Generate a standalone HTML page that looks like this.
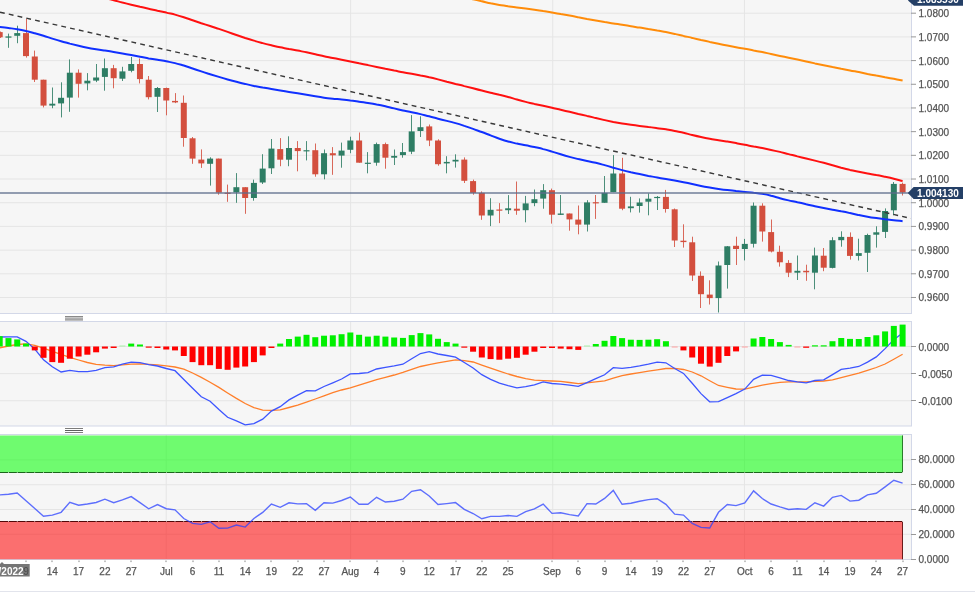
<!DOCTYPE html><html><head><meta charset="utf-8"><style>html,body{margin:0;padding:0;background:#fff;}body{width:975px;height:596px;overflow:hidden;}svg{display:block;}text{font-family:"Liberation Sans",Arial,sans-serif;}</style></head><body>
<svg width="975" height="596" viewBox="0 0 975 596">
<rect x="0" y="0" width="975" height="596" fill="#ffffff"/>
<rect x="-1" y="-2" width="912.5" height="315.5" fill="#f6f6f6" stroke="#d3d8e8" stroke-width="1"/>
<rect x="-1" y="321.5" width="912.5" height="104.5" fill="#f6f6f6" stroke="#d3d8e8" stroke-width="1"/>
<rect x="-1" y="434.5" width="912.5" height="125.0" fill="#f6f6f6" stroke="#d3d8e8" stroke-width="1"/>
<g>
<clipPath id="cm"><rect x="0" y="0" width="911" height="313"/></clipPath>
<g clip-path="url(#cm)">
<line x1="0" y1="13.20" x2="911" y2="13.20" stroke="#e5e5e5" stroke-width="1"/>
<line x1="0" y1="36.89" x2="911" y2="36.89" stroke="#e5e5e5" stroke-width="1"/>
<line x1="0" y1="60.58" x2="911" y2="60.58" stroke="#e5e5e5" stroke-width="1"/>
<line x1="0" y1="84.27" x2="911" y2="84.27" stroke="#e5e5e5" stroke-width="1"/>
<line x1="0" y1="107.96" x2="911" y2="107.96" stroke="#e5e5e5" stroke-width="1"/>
<line x1="0" y1="131.65" x2="911" y2="131.65" stroke="#e5e5e5" stroke-width="1"/>
<line x1="0" y1="155.34" x2="911" y2="155.34" stroke="#e5e5e5" stroke-width="1"/>
<line x1="0" y1="179.03" x2="911" y2="179.03" stroke="#e5e5e5" stroke-width="1"/>
<line x1="0" y1="202.72" x2="911" y2="202.72" stroke="#e5e5e5" stroke-width="1"/>
<line x1="0" y1="226.41" x2="911" y2="226.41" stroke="#e5e5e5" stroke-width="1"/>
<line x1="0" y1="250.10" x2="911" y2="250.10" stroke="#e5e5e5" stroke-width="1"/>
<line x1="0" y1="273.79" x2="911" y2="273.79" stroke="#e5e5e5" stroke-width="1"/>
<line x1="0" y1="297.48" x2="911" y2="297.48" stroke="#e5e5e5" stroke-width="1"/>
<line x1="166.2" y1="0" x2="166.2" y2="313" stroke="#e5e5e5" stroke-width="1"/>
<line x1="350.6" y1="0" x2="350.6" y2="313" stroke="#e5e5e5" stroke-width="1"/>
<line x1="552.7" y1="0" x2="552.7" y2="313" stroke="#e5e5e5" stroke-width="1"/>
<line x1="744.4" y1="0" x2="744.4" y2="313" stroke="#e5e5e5" stroke-width="1"/>
<path d="M455.5,-4.4 C457.0,-4.1 461.4,-3.2 464.3,-2.6 C467.2,-2.0 470.1,-1.4 473.1,-0.7 C476.0,-0.1 478.9,0.6 481.8,1.3 C484.8,2.0 487.7,2.6 490.6,3.3 C493.5,3.9 496.4,4.4 499.4,4.9 C502.3,5.4 505.2,5.8 508.1,6.3 C511.1,6.7 514.0,7.1 516.9,7.4 C519.8,7.8 522.7,8.2 525.7,8.6 C528.6,9.0 531.5,9.4 534.4,9.8 C537.4,10.2 540.3,10.6 543.2,11.1 C546.1,11.5 549.0,12.0 552.0,12.5 C554.9,13.0 557.8,13.5 560.7,14.1 C563.6,14.6 566.6,15.1 569.5,15.6 C572.4,16.1 575.3,16.7 578.3,17.3 C581.2,17.8 584.1,18.4 587.0,19.0 C589.9,19.5 592.9,20.1 595.8,20.6 C598.7,21.1 601.6,21.6 604.6,22.1 C607.5,22.5 610.4,23.0 613.3,23.4 C616.2,23.9 619.2,24.3 622.1,24.8 C625.0,25.3 627.9,25.8 630.9,26.2 C633.8,26.7 636.7,27.1 639.6,27.6 C642.5,28.1 645.5,28.5 648.4,29.0 C651.3,29.4 654.2,29.9 657.2,30.5 C660.1,31.0 663.0,31.6 665.9,32.1 C668.8,32.7 671.8,33.3 674.7,33.9 C677.6,34.6 680.5,35.2 683.5,35.9 C686.4,36.5 689.3,37.3 692.2,37.9 C695.1,38.6 698.1,39.3 701.0,40.0 C703.9,40.6 706.8,41.2 709.7,41.9 C712.7,42.5 715.6,43.1 718.5,43.7 C721.4,44.3 724.4,45.0 727.3,45.6 C730.2,46.2 733.1,46.8 736.0,47.3 C739.0,47.9 741.9,48.3 744.8,48.8 C747.7,49.4 750.7,49.8 753.6,50.4 C756.5,50.9 759.4,51.5 762.3,52.1 C765.3,52.7 768.2,53.4 771.1,54.0 C774.0,54.6 777.0,55.3 779.9,55.9 C782.8,56.5 785.7,57.1 788.6,57.7 C791.6,58.3 794.5,58.9 797.4,59.5 C800.3,60.1 803.3,60.8 806.2,61.4 C809.1,62.0 812.0,62.7 814.9,63.4 C817.9,64.0 820.8,64.6 823.7,65.2 C826.6,65.8 829.5,66.4 832.5,67.0 C835.4,67.5 838.3,68.1 841.2,68.7 C844.2,69.2 847.1,69.8 850.0,70.4 C852.9,71.0 855.8,71.5 858.8,72.1 C861.7,72.7 864.6,73.3 867.5,73.9 C870.5,74.4 873.4,75.0 876.3,75.6 C879.2,76.1 882.1,76.6 885.1,77.2 C888.0,77.7 890.9,78.2 893.8,78.8 C896.8,79.4 901.1,80.3 902.6,80.6" fill="none" stroke="#ff8c0a" stroke-width="2"/>
<path d="M96.1,-3.8 C97.6,-3.4 102.0,-2.5 104.9,-1.8 C107.8,-1.2 110.7,-0.5 113.7,0.2 C116.6,1.0 119.5,1.7 122.4,2.5 C125.3,3.2 128.3,4.0 131.2,4.7 C134.1,5.4 137.0,6.1 140.0,6.8 C142.9,7.4 145.8,8.1 148.7,8.8 C151.6,9.5 154.6,10.1 157.5,10.8 C160.4,11.4 163.3,12.0 166.3,12.6 C169.2,13.3 172.1,13.9 175.0,14.6 C177.9,15.4 180.9,16.3 183.8,17.2 C186.7,18.1 189.6,19.2 192.6,20.2 C195.5,21.2 198.4,22.2 201.3,23.2 C204.2,24.1 207.2,25.1 210.1,26.0 C213.0,27.0 215.9,27.9 218.9,28.9 C221.8,29.9 224.7,30.9 227.6,31.9 C230.5,32.9 233.5,34.0 236.4,35.0 C239.3,36.0 242.2,37.0 245.2,38.0 C248.1,38.9 251.0,39.8 253.9,40.6 C256.8,41.5 259.8,42.3 262.7,43.1 C265.6,43.9 268.5,44.6 271.4,45.3 C274.4,46.0 277.3,46.7 280.2,47.3 C283.1,47.9 286.1,48.4 289.0,49.0 C291.9,49.5 294.8,50.1 297.7,50.6 C300.7,51.2 303.6,51.7 306.5,52.3 C309.4,52.9 312.4,53.6 315.3,54.2 C318.2,54.8 321.1,55.6 324.0,56.2 C327.0,56.8 329.9,57.5 332.8,58.1 C335.7,58.7 338.7,59.2 341.6,59.7 C344.5,60.3 347.4,60.9 350.3,61.4 C353.3,62.0 356.2,62.6 359.1,63.3 C362.0,63.9 365.0,64.5 367.9,65.1 C370.8,65.8 373.7,66.4 376.6,67.0 C379.6,67.6 382.5,68.2 385.4,68.8 C388.3,69.4 391.2,70.0 394.2,70.6 C397.1,71.1 400.0,71.7 402.9,72.2 C405.9,72.8 408.8,73.3 411.7,73.8 C414.6,74.3 417.5,74.8 420.5,75.4 C423.4,75.9 426.3,76.5 429.2,77.2 C432.2,77.8 435.1,78.6 438.0,79.4 C440.9,80.2 443.8,81.0 446.8,81.8 C449.7,82.5 452.6,83.2 455.5,84.0 C458.5,84.7 461.4,85.3 464.3,86.1 C467.2,86.8 470.1,87.5 473.1,88.2 C476.0,89.0 478.9,89.8 481.8,90.5 C484.8,91.3 487.7,92.0 490.6,92.7 C493.5,93.4 496.4,94.0 499.4,94.8 C502.3,95.5 505.2,96.2 508.1,97.0 C511.1,97.8 514.0,98.7 516.9,99.5 C519.8,100.4 522.7,101.2 525.7,101.9 C528.6,102.6 531.5,103.2 534.4,103.9 C537.4,104.5 540.3,105.1 543.2,105.7 C546.1,106.4 549.0,107.1 552.0,107.8 C554.9,108.5 557.8,109.1 560.7,109.8 C563.6,110.5 566.6,111.2 569.5,111.8 C572.4,112.5 575.3,113.2 578.3,113.9 C581.2,114.5 584.1,115.2 587.0,115.9 C589.9,116.5 592.9,117.3 595.8,118.0 C598.7,118.7 601.6,119.4 604.6,120.1 C607.5,120.7 610.4,121.3 613.3,121.9 C616.2,122.4 619.2,122.9 622.1,123.4 C625.0,123.9 627.9,124.3 630.9,124.7 C633.8,125.1 636.7,125.5 639.6,125.9 C642.5,126.3 645.5,126.7 648.4,127.1 C651.3,127.4 654.2,127.8 657.2,128.2 C660.1,128.6 663.0,128.9 665.9,129.3 C668.8,129.8 671.8,130.3 674.7,130.9 C677.6,131.5 680.5,132.2 683.5,132.8 C686.4,133.5 689.3,134.3 692.2,135.0 C695.1,135.7 698.1,136.4 701.0,137.0 C703.9,137.7 706.8,138.3 709.7,138.8 C712.7,139.4 715.6,139.8 718.5,140.3 C721.4,140.8 724.4,141.2 727.3,141.6 C730.2,142.1 733.1,142.6 736.0,143.1 C739.0,143.7 741.9,144.3 744.8,144.8 C747.7,145.4 750.7,145.9 753.6,146.5 C756.5,147.0 759.4,147.6 762.3,148.1 C765.3,148.7 768.2,149.3 771.1,149.9 C774.0,150.5 777.0,151.2 779.9,151.9 C782.8,152.6 785.7,153.4 788.6,154.1 C791.6,154.9 794.5,155.6 797.4,156.4 C800.3,157.1 803.3,157.8 806.2,158.5 C809.1,159.2 812.0,159.9 814.9,160.6 C817.9,161.3 820.8,162.0 823.7,162.8 C826.6,163.6 829.5,164.4 832.5,165.2 C835.4,166.0 838.3,166.9 841.2,167.7 C844.2,168.4 847.1,169.2 850.0,169.9 C852.9,170.5 855.8,171.2 858.8,171.7 C861.7,172.3 864.6,172.9 867.5,173.4 C870.5,174.0 873.4,174.5 876.3,175.1 C879.2,175.6 882.1,176.2 885.1,176.8 C888.0,177.4 890.9,178.0 893.8,178.7 C896.8,179.4 901.1,180.6 902.6,180.9" fill="none" stroke="#ff1010" stroke-width="2"/>
<rect x="0" y="31.5" width="1" height="6.5" fill="#d34f3e" opacity="0.85"/>
<rect x="-3.30" y="32.1" width="6" height="5.2" fill="#d34f3e"/>
<rect x="8" y="33.6" width="1" height="14.2" fill="#2e7d64" opacity="0.85"/>
<rect x="5.47" y="36.4" width="6" height="1.3" fill="#2e7d64"/>
<rect x="17" y="25.7" width="1" height="17.5" fill="#2e7d64" opacity="0.85"/>
<rect x="14.23" y="33.1" width="6" height="2.7" fill="#2e7d64"/>
<rect x="26" y="18.9" width="1" height="38.7" fill="#d34f3e" opacity="0.85"/>
<rect x="23.00" y="33.1" width="6" height="23.0" fill="#d34f3e"/>
<rect x="34" y="50.6" width="1" height="31.4" fill="#d34f3e" opacity="0.85"/>
<rect x="31.77" y="56.5" width="6" height="23.2" fill="#d34f3e"/>
<rect x="43" y="79.7" width="1" height="27.7" fill="#d34f3e" opacity="0.85"/>
<rect x="40.53" y="79.7" width="6" height="25.9" fill="#d34f3e"/>
<rect x="52" y="87.5" width="1" height="20.7" fill="#2e7d64" opacity="0.85"/>
<rect x="49.30" y="103.7" width="6" height="1.9" fill="#2e7d64"/>
<rect x="61" y="82.3" width="1" height="35.1" fill="#2e7d64" opacity="0.85"/>
<rect x="58.06" y="97.8" width="6" height="5.6" fill="#2e7d64"/>
<rect x="69" y="59.4" width="1" height="52.4" fill="#2e7d64" opacity="0.85"/>
<rect x="66.83" y="72.7" width="6" height="24.9" fill="#2e7d64"/>
<rect x="78" y="69.4" width="1" height="28.2" fill="#d34f3e" opacity="0.85"/>
<rect x="75.60" y="72.7" width="6" height="11.1" fill="#d34f3e"/>
<rect x="87" y="73.1" width="1" height="17.2" fill="#2e7d64" opacity="0.85"/>
<rect x="84.36" y="80.7" width="6" height="2.7" fill="#2e7d64"/>
<rect x="96" y="64.0" width="1" height="18.1" fill="#2e7d64" opacity="0.85"/>
<rect x="93.13" y="77.5" width="6" height="3.1" fill="#2e7d64"/>
<rect x="104" y="58.5" width="1" height="32.2" fill="#2e7d64" opacity="0.85"/>
<rect x="101.89" y="68.2" width="6" height="8.7" fill="#2e7d64"/>
<rect x="113" y="64.9" width="1" height="23.4" fill="#d34f3e" opacity="0.85"/>
<rect x="110.66" y="68.2" width="6" height="10.0" fill="#d34f3e"/>
<rect x="122" y="66.8" width="1" height="14.2" fill="#2e7d64" opacity="0.85"/>
<rect x="119.43" y="71.4" width="6" height="7.3" fill="#2e7d64"/>
<rect x="131" y="57.0" width="1" height="15.3" fill="#2e7d64" opacity="0.85"/>
<rect x="128.19" y="64.0" width="6" height="6.8" fill="#2e7d64"/>
<rect x="139" y="58.5" width="1" height="24.9" fill="#d34f3e" opacity="0.85"/>
<rect x="136.96" y="64.0" width="6" height="15.1" fill="#d34f3e"/>
<rect x="148" y="76.0" width="1" height="23.4" fill="#d34f3e" opacity="0.85"/>
<rect x="145.72" y="79.7" width="6" height="17.5" fill="#d34f3e"/>
<rect x="157" y="87.0" width="1" height="25.0" fill="#2e7d64" opacity="0.85"/>
<rect x="154.49" y="88.0" width="6" height="8.8" fill="#2e7d64"/>
<rect x="166" y="87.6" width="1" height="27.7" fill="#d34f3e" opacity="0.85"/>
<rect x="163.26" y="88.0" width="6" height="12.5" fill="#d34f3e"/>
<rect x="175" y="93.1" width="1" height="10.0" fill="#d34f3e" opacity="0.85"/>
<rect x="172.02" y="100.9" width="6" height="1.5" fill="#d34f3e"/>
<rect x="183" y="95.5" width="1" height="51.2" fill="#d34f3e" opacity="0.85"/>
<rect x="180.79" y="102.8" width="6" height="35.2" fill="#d34f3e"/>
<rect x="192" y="137.0" width="1" height="26.8" fill="#d34f3e" opacity="0.85"/>
<rect x="189.55" y="138.3" width="6" height="20.3" fill="#d34f3e"/>
<rect x="201" y="149.4" width="1" height="18.5" fill="#d34f3e" opacity="0.85"/>
<rect x="198.32" y="159.6" width="6" height="3.8" fill="#d34f3e"/>
<rect x="210" y="157.3" width="1" height="28.3" fill="#2e7d64" opacity="0.85"/>
<rect x="207.09" y="158.6" width="6" height="5.2" fill="#2e7d64"/>
<rect x="218" y="158.6" width="1" height="36.1" fill="#d34f3e" opacity="0.85"/>
<rect x="215.85" y="158.6" width="6" height="34.0" fill="#d34f3e"/>
<rect x="227" y="184.6" width="1" height="17.2" fill="#d34f3e" opacity="0.85"/>
<rect x="224.62" y="192.7" width="6" height="1.2" fill="#d34f3e"/>
<rect x="236" y="173.1" width="1" height="29.7" fill="#2e7d64" opacity="0.85"/>
<rect x="233.38" y="187.2" width="6" height="5.2" fill="#2e7d64"/>
<rect x="245" y="187.2" width="1" height="26.6" fill="#d34f3e" opacity="0.85"/>
<rect x="242.15" y="187.2" width="6" height="10.8" fill="#d34f3e"/>
<rect x="253" y="179.6" width="1" height="21.1" fill="#2e7d64" opacity="0.85"/>
<rect x="250.92" y="182.9" width="6" height="15.1" fill="#2e7d64"/>
<rect x="262" y="154.2" width="1" height="29.8" fill="#2e7d64" opacity="0.85"/>
<rect x="259.68" y="168.6" width="6" height="13.9" fill="#2e7d64"/>
<rect x="271" y="139.0" width="1" height="35.0" fill="#2e7d64" opacity="0.85"/>
<rect x="268.45" y="148.6" width="6" height="19.7" fill="#2e7d64"/>
<rect x="280" y="138.1" width="1" height="28.1" fill="#d34f3e" opacity="0.85"/>
<rect x="277.21" y="149.1" width="6" height="10.6" fill="#d34f3e"/>
<rect x="288" y="136.3" width="1" height="29.9" fill="#2e7d64" opacity="0.85"/>
<rect x="285.98" y="148.0" width="6" height="11.7" fill="#2e7d64"/>
<rect x="297" y="141.1" width="1" height="30.2" fill="#d34f3e" opacity="0.85"/>
<rect x="294.75" y="148.0" width="6" height="3.1" fill="#d34f3e"/>
<rect x="306" y="141.1" width="1" height="19.3" fill="#2e7d64" opacity="0.85"/>
<rect x="303.51" y="150.2" width="6" height="1.2" fill="#2e7d64"/>
<rect x="315" y="143.5" width="1" height="33.2" fill="#d34f3e" opacity="0.85"/>
<rect x="312.28" y="150.2" width="6" height="24.1" fill="#d34f3e"/>
<rect x="324" y="149.5" width="1" height="29.8" fill="#2e7d64" opacity="0.85"/>
<rect x="321.04" y="153.2" width="6" height="21.1" fill="#2e7d64"/>
<rect x="332" y="147.1" width="1" height="27.7" fill="#d34f3e" opacity="0.85"/>
<rect x="329.81" y="153.2" width="6" height="2.1" fill="#d34f3e"/>
<rect x="341" y="142.6" width="1" height="25.1" fill="#2e7d64" opacity="0.85"/>
<rect x="338.58" y="150.6" width="6" height="5.0" fill="#2e7d64"/>
<rect x="350" y="136.7" width="1" height="16.5" fill="#2e7d64" opacity="0.85"/>
<rect x="347.34" y="140.5" width="6" height="9.3" fill="#2e7d64"/>
<rect x="359" y="132.5" width="1" height="30.2" fill="#d34f3e" opacity="0.85"/>
<rect x="356.11" y="140.5" width="6" height="22.2" fill="#d34f3e"/>
<rect x="367" y="152.1" width="1" height="21.2" fill="#2e7d64" opacity="0.85"/>
<rect x="364.87" y="162.7" width="6" height="1.2" fill="#2e7d64"/>
<rect x="376" y="142.6" width="1" height="23.1" fill="#2e7d64" opacity="0.85"/>
<rect x="373.64" y="144.1" width="6" height="18.6" fill="#2e7d64"/>
<rect x="385" y="142.6" width="1" height="26.1" fill="#d34f3e" opacity="0.85"/>
<rect x="382.41" y="144.1" width="6" height="13.6" fill="#d34f3e"/>
<rect x="394" y="149.5" width="1" height="15.5" fill="#2e7d64" opacity="0.85"/>
<rect x="391.17" y="155.9" width="6" height="1.8" fill="#2e7d64"/>
<rect x="402" y="143.0" width="1" height="14.7" fill="#2e7d64" opacity="0.85"/>
<rect x="399.94" y="152.1" width="6" height="3.0" fill="#2e7d64"/>
<rect x="411" y="115.1" width="1" height="39.0" fill="#2e7d64" opacity="0.85"/>
<rect x="408.70" y="131.4" width="6" height="20.3" fill="#2e7d64"/>
<rect x="420" y="116.3" width="1" height="20.7" fill="#2e7d64" opacity="0.85"/>
<rect x="417.47" y="127.2" width="6" height="3.8" fill="#2e7d64"/>
<rect x="429" y="124.5" width="1" height="21.6" fill="#d34f3e" opacity="0.85"/>
<rect x="426.24" y="126.4" width="6" height="14.1" fill="#d34f3e"/>
<rect x="438" y="139.3" width="1" height="26.4" fill="#d34f3e" opacity="0.85"/>
<rect x="435.00" y="140.5" width="6" height="23.7" fill="#d34f3e"/>
<rect x="446" y="156.2" width="1" height="17.1" fill="#2e7d64" opacity="0.85"/>
<rect x="443.77" y="161.9" width="6" height="1.5" fill="#2e7d64"/>
<rect x="455" y="154.3" width="1" height="13.3" fill="#2e7d64" opacity="0.85"/>
<rect x="452.53" y="159.8" width="6" height="1.7" fill="#2e7d64"/>
<rect x="464" y="157.4" width="1" height="25.6" fill="#d34f3e" opacity="0.85"/>
<rect x="461.30" y="159.6" width="6" height="21.2" fill="#d34f3e"/>
<rect x="473" y="179.6" width="1" height="15.1" fill="#d34f3e" opacity="0.85"/>
<rect x="470.07" y="181.1" width="6" height="11.8" fill="#d34f3e"/>
<rect x="481" y="191.4" width="1" height="28.4" fill="#d34f3e" opacity="0.85"/>
<rect x="478.83" y="192.9" width="6" height="22.6" fill="#d34f3e"/>
<rect x="490" y="198.2" width="1" height="27.9" fill="#2e7d64" opacity="0.85"/>
<rect x="487.60" y="209.8" width="6" height="5.7" fill="#2e7d64"/>
<rect x="499" y="203.1" width="1" height="20.0" fill="#d34f3e" opacity="0.85"/>
<rect x="496.36" y="209.5" width="6" height="1.2" fill="#d34f3e"/>
<rect x="508" y="195.1" width="1" height="18.9" fill="#2e7d64" opacity="0.85"/>
<rect x="505.13" y="208.3" width="6" height="1.9" fill="#2e7d64"/>
<rect x="516" y="181.5" width="1" height="33.3" fill="#d34f3e" opacity="0.85"/>
<rect x="513.90" y="208.7" width="6" height="2.0" fill="#d34f3e"/>
<rect x="525" y="195.9" width="1" height="26.4" fill="#2e7d64" opacity="0.85"/>
<rect x="522.66" y="203.4" width="6" height="6.8" fill="#2e7d64"/>
<rect x="534" y="189.5" width="1" height="16.7" fill="#2e7d64" opacity="0.85"/>
<rect x="531.43" y="199.2" width="6" height="3.9" fill="#2e7d64"/>
<rect x="543" y="184.1" width="1" height="24.6" fill="#2e7d64" opacity="0.85"/>
<rect x="540.19" y="190.2" width="6" height="8.4" fill="#2e7d64"/>
<rect x="551" y="188.6" width="1" height="35.0" fill="#d34f3e" opacity="0.85"/>
<rect x="548.96" y="190.2" width="6" height="24.5" fill="#d34f3e"/>
<rect x="560" y="195.0" width="1" height="19.9" fill="#2e7d64" opacity="0.85"/>
<rect x="557.73" y="213.5" width="6" height="1.4" fill="#2e7d64"/>
<rect x="569" y="213.5" width="1" height="17.2" fill="#d34f3e" opacity="0.85"/>
<rect x="566.49" y="213.5" width="6" height="5.9" fill="#d34f3e"/>
<rect x="578" y="205.5" width="1" height="28.8" fill="#d34f3e" opacity="0.85"/>
<rect x="575.26" y="219.6" width="6" height="5.0" fill="#d34f3e"/>
<rect x="587" y="200.2" width="1" height="31.3" fill="#2e7d64" opacity="0.85"/>
<rect x="584.02" y="202.4" width="6" height="22.2" fill="#2e7d64"/>
<rect x="595" y="195.0" width="1" height="23.9" fill="#d34f3e" opacity="0.85"/>
<rect x="592.79" y="202.2" width="6" height="1.2" fill="#d34f3e"/>
<rect x="604" y="176.0" width="1" height="26.8" fill="#2e7d64" opacity="0.85"/>
<rect x="601.56" y="192.9" width="6" height="9.9" fill="#2e7d64"/>
<rect x="613" y="155.1" width="1" height="37.0" fill="#2e7d64" opacity="0.85"/>
<rect x="610.32" y="173.5" width="6" height="18.6" fill="#2e7d64"/>
<rect x="622" y="157.8" width="1" height="52.4" fill="#d34f3e" opacity="0.85"/>
<rect x="619.09" y="173.5" width="6" height="35.2" fill="#d34f3e"/>
<rect x="630" y="196.8" width="1" height="15.6" fill="#2e7d64" opacity="0.85"/>
<rect x="627.85" y="206.4" width="6" height="1.8" fill="#2e7d64"/>
<rect x="639" y="198.4" width="1" height="14.2" fill="#2e7d64" opacity="0.85"/>
<rect x="636.62" y="202.5" width="6" height="3.5" fill="#2e7d64"/>
<rect x="648" y="193.4" width="1" height="21.9" fill="#2e7d64" opacity="0.85"/>
<rect x="645.39" y="198.7" width="6" height="3.0" fill="#2e7d64"/>
<rect x="657" y="196.0" width="1" height="14.0" fill="#2e7d64" opacity="0.85"/>
<rect x="654.15" y="196.9" width="6" height="1.2" fill="#2e7d64"/>
<rect x="665" y="189.9" width="1" height="22.7" fill="#d34f3e" opacity="0.85"/>
<rect x="662.92" y="196.9" width="6" height="12.1" fill="#d34f3e"/>
<rect x="674" y="208.5" width="1" height="38.5" fill="#d34f3e" opacity="0.85"/>
<rect x="671.68" y="209.3" width="6" height="31.2" fill="#d34f3e"/>
<rect x="683" y="224.3" width="1" height="23.3" fill="#d34f3e" opacity="0.85"/>
<rect x="680.45" y="240.7" width="6" height="1.4" fill="#d34f3e"/>
<rect x="692" y="236.7" width="1" height="44.2" fill="#d34f3e" opacity="0.85"/>
<rect x="689.22" y="242.3" width="6" height="33.2" fill="#d34f3e"/>
<rect x="700" y="271.4" width="1" height="36.6" fill="#d34f3e" opacity="0.85"/>
<rect x="697.98" y="275.8" width="6" height="18.4" fill="#d34f3e"/>
<rect x="709" y="280.3" width="1" height="24.2" fill="#d34f3e" opacity="0.85"/>
<rect x="706.75" y="294.6" width="6" height="3.5" fill="#d34f3e"/>
<rect x="718" y="261.5" width="1" height="51.0" fill="#2e7d64" opacity="0.85"/>
<rect x="715.51" y="265.5" width="6" height="32.6" fill="#2e7d64"/>
<rect x="727" y="246.0" width="1" height="42.6" fill="#2e7d64" opacity="0.85"/>
<rect x="724.28" y="246.3" width="6" height="18.7" fill="#2e7d64"/>
<rect x="736" y="236.7" width="1" height="28.3" fill="#d34f3e" opacity="0.85"/>
<rect x="733.05" y="245.8" width="6" height="3.2" fill="#d34f3e"/>
<rect x="744" y="238.9" width="1" height="21.5" fill="#2e7d64" opacity="0.85"/>
<rect x="741.81" y="243.9" width="6" height="5.1" fill="#2e7d64"/>
<rect x="753" y="202.5" width="1" height="45.0" fill="#2e7d64" opacity="0.85"/>
<rect x="750.58" y="205.7" width="6" height="38.1" fill="#2e7d64"/>
<rect x="762" y="203.3" width="1" height="38.3" fill="#d34f3e" opacity="0.85"/>
<rect x="759.34" y="205.7" width="6" height="25.8" fill="#d34f3e"/>
<rect x="771" y="219.5" width="1" height="32.9" fill="#d34f3e" opacity="0.85"/>
<rect x="768.11" y="232.1" width="6" height="19.4" fill="#d34f3e"/>
<rect x="779" y="245.7" width="1" height="20.9" fill="#d34f3e" opacity="0.85"/>
<rect x="776.88" y="251.8" width="6" height="10.5" fill="#d34f3e"/>
<rect x="788" y="260.1" width="1" height="17.0" fill="#d34f3e" opacity="0.85"/>
<rect x="785.64" y="262.9" width="6" height="9.8" fill="#d34f3e"/>
<rect x="797" y="255.5" width="1" height="24.5" fill="#2e7d64" opacity="0.85"/>
<rect x="794.41" y="270.8" width="6" height="1.9" fill="#2e7d64"/>
<rect x="806" y="264.7" width="1" height="16.1" fill="#d34f3e" opacity="0.85"/>
<rect x="803.17" y="270.8" width="6" height="1.5" fill="#d34f3e"/>
<rect x="814" y="247.6" width="1" height="41.7" fill="#2e7d64" opacity="0.85"/>
<rect x="811.94" y="255.5" width="6" height="17.2" fill="#2e7d64"/>
<rect x="823" y="248.0" width="1" height="23.2" fill="#d34f3e" opacity="0.85"/>
<rect x="820.71" y="255.7" width="6" height="12.0" fill="#d34f3e"/>
<rect x="832" y="237.2" width="1" height="31.2" fill="#2e7d64" opacity="0.85"/>
<rect x="829.47" y="240.2" width="6" height="27.7" fill="#2e7d64"/>
<rect x="841" y="231.3" width="1" height="15.4" fill="#2e7d64" opacity="0.85"/>
<rect x="838.24" y="236.9" width="6" height="3.3" fill="#2e7d64"/>
<rect x="850" y="232.4" width="1" height="27.2" fill="#d34f3e" opacity="0.85"/>
<rect x="847.00" y="236.9" width="6" height="19.0" fill="#d34f3e"/>
<rect x="858" y="238.7" width="1" height="21.8" fill="#2e7d64" opacity="0.85"/>
<rect x="855.77" y="253.1" width="6" height="2.8" fill="#2e7d64"/>
<rect x="867" y="233.7" width="1" height="38.3" fill="#2e7d64" opacity="0.85"/>
<rect x="864.54" y="235.0" width="6" height="17.8" fill="#2e7d64"/>
<rect x="876" y="226.3" width="1" height="21.3" fill="#2e7d64" opacity="0.85"/>
<rect x="873.30" y="232.3" width="6" height="2.4" fill="#2e7d64"/>
<rect x="885" y="208.4" width="1" height="29.6" fill="#2e7d64" opacity="0.85"/>
<rect x="882.07" y="211.0" width="6" height="20.9" fill="#2e7d64"/>
<rect x="893" y="182.0" width="1" height="33.3" fill="#2e7d64" opacity="0.85"/>
<rect x="890.83" y="183.9" width="6" height="26.4" fill="#2e7d64"/>
<rect x="902" y="182.6" width="1" height="12.9" fill="#d34f3e" opacity="0.85"/>
<rect x="899.60" y="183.9" width="6" height="8.6" fill="#d34f3e"/>
<path d="M-9.1,25.9 C-7.6,26.1 -3.2,26.6 -0.3,27.0 C2.6,27.3 5.5,27.6 8.5,28.0 C11.4,28.4 14.3,28.7 17.2,29.2 C20.2,29.7 23.1,30.3 26.0,31.0 C28.9,31.6 31.8,32.4 34.8,33.2 C37.7,34.0 40.6,34.9 43.5,35.8 C46.5,36.7 49.4,37.7 52.3,38.6 C55.2,39.5 58.1,40.4 61.1,41.2 C64.0,42.1 66.9,42.8 69.8,43.6 C72.8,44.3 75.7,45.0 78.6,45.7 C81.5,46.4 84.4,47.1 87.4,47.7 C90.3,48.3 93.2,48.8 96.1,49.3 C99.0,49.8 102.0,50.2 104.9,50.6 C107.8,51.0 110.7,51.4 113.7,51.9 C116.6,52.4 119.5,52.9 122.4,53.4 C125.3,53.9 128.3,54.5 131.2,55.1 C134.1,55.7 137.0,56.3 140.0,56.8 C142.9,57.3 145.8,57.9 148.7,58.4 C151.6,58.8 154.6,59.3 157.5,59.8 C160.4,60.3 163.3,60.7 166.3,61.3 C169.2,61.9 172.1,62.4 175.0,63.1 C177.9,63.8 180.9,64.7 183.8,65.5 C186.7,66.4 189.6,67.5 192.6,68.5 C195.5,69.4 198.4,70.4 201.3,71.4 C204.2,72.4 207.2,73.3 210.1,74.2 C213.0,75.1 215.9,76.0 218.9,76.9 C221.8,77.8 224.7,78.7 227.6,79.5 C230.5,80.3 233.5,81.1 236.4,81.8 C239.3,82.6 242.2,83.3 245.2,83.9 C248.1,84.6 251.0,85.3 253.9,85.9 C256.8,86.5 259.8,87.0 262.7,87.6 C265.6,88.1 268.5,88.6 271.4,89.0 C274.4,89.5 277.3,90.0 280.2,90.5 C283.1,91.0 286.1,91.5 289.0,91.9 C291.9,92.4 294.8,92.9 297.7,93.3 C300.7,93.8 303.6,94.3 306.5,94.8 C309.4,95.3 312.4,95.8 315.3,96.3 C318.2,96.8 321.1,97.3 324.0,97.7 C327.0,98.1 329.9,98.4 332.8,98.7 C335.7,99.0 338.7,99.2 341.6,99.5 C344.5,99.8 347.4,100.1 350.3,100.5 C353.3,100.8 356.2,101.3 359.1,101.7 C362.0,102.1 365.0,102.6 367.9,103.0 C370.8,103.4 373.7,103.8 376.6,104.4 C379.6,104.9 382.5,105.5 385.4,106.2 C388.3,106.9 391.2,107.7 394.2,108.4 C397.1,109.2 400.0,109.9 402.9,110.5 C405.9,111.1 408.8,111.6 411.7,112.2 C414.6,112.8 417.5,113.4 420.5,114.1 C423.4,114.8 426.3,115.6 429.2,116.3 C432.2,117.1 435.1,118.0 438.0,118.7 C440.9,119.5 443.8,120.2 446.8,120.9 C449.7,121.6 452.6,122.3 455.5,123.1 C458.5,123.9 461.4,124.9 464.3,125.9 C467.2,126.8 470.1,127.9 473.1,128.9 C476.0,129.9 478.9,131.0 481.8,132.0 C484.8,133.1 487.7,134.3 490.6,135.4 C493.5,136.5 496.4,137.7 499.4,138.7 C502.3,139.7 505.2,140.7 508.1,141.5 C511.1,142.3 514.0,142.9 516.9,143.6 C519.8,144.2 522.7,144.7 525.7,145.3 C528.6,145.9 531.5,146.4 534.4,147.0 C537.4,147.7 540.3,148.3 543.2,149.1 C546.1,149.8 549.0,150.7 552.0,151.6 C554.9,152.5 557.8,153.4 560.7,154.3 C563.6,155.2 566.6,156.1 569.5,156.9 C572.4,157.7 575.3,158.4 578.3,159.1 C581.2,159.7 584.1,160.3 587.0,160.9 C589.9,161.5 592.9,162.1 595.8,162.8 C598.7,163.5 601.6,164.3 604.6,165.1 C607.5,165.9 610.4,166.8 613.3,167.7 C616.2,168.5 619.2,169.3 622.1,170.1 C625.0,170.9 627.9,171.6 630.9,172.3 C633.8,172.9 636.7,173.5 639.6,174.1 C642.5,174.7 645.5,175.3 648.4,175.9 C651.3,176.4 654.2,177.0 657.2,177.5 C660.1,178.1 663.0,178.6 665.9,179.1 C668.8,179.6 671.8,180.1 674.7,180.6 C677.6,181.1 680.5,181.6 683.5,182.2 C686.4,182.8 689.3,183.4 692.2,184.0 C695.1,184.6 698.1,185.3 701.0,185.9 C703.9,186.5 706.8,187.0 709.7,187.5 C712.7,188.0 715.6,188.5 718.5,188.9 C721.4,189.3 724.4,189.7 727.3,190.0 C730.2,190.3 733.1,190.6 736.0,191.0 C739.0,191.3 741.9,191.6 744.8,191.9 C747.7,192.2 750.7,192.4 753.6,192.8 C756.5,193.1 759.4,193.3 762.3,193.8 C765.3,194.3 768.2,194.9 771.1,195.7 C774.0,196.4 777.0,197.4 779.9,198.2 C782.8,199.0 785.7,199.7 788.6,200.4 C791.6,201.1 794.5,201.6 797.4,202.3 C800.3,202.9 803.3,203.6 806.2,204.3 C809.1,204.9 812.0,205.6 814.9,206.2 C817.9,206.8 820.8,207.4 823.7,208.0 C826.6,208.6 829.5,209.2 832.5,209.7 C835.4,210.3 838.3,210.7 841.2,211.3 C844.2,211.8 847.1,212.4 850.0,213.1 C852.9,213.7 855.8,214.4 858.8,215.1 C861.7,215.7 864.6,216.2 867.5,216.7 C870.5,217.3 873.4,217.7 876.3,218.1 C879.2,218.5 882.1,218.9 885.1,219.3 C888.0,219.6 890.9,219.9 893.8,220.2 C896.8,220.6 901.1,221.0 902.6,221.2" fill="none" stroke="#1030ff" stroke-width="2"/>
<line x1="0" y1="12.2" x2="911" y2="218.4" stroke="#383838" stroke-width="1.4" stroke-dasharray="4.85,4.13"/>
<line x1="0" y1="192.9" x2="911" y2="192.9" stroke="#5d6d8c" stroke-width="2" opacity="0.65"/>
</g></g>
<clipPath id="cd"><rect x="0" y="322" width="911" height="104"/></clipPath>
<g clip-path="url(#cd)">
<line x1="0" y1="346.5" x2="911" y2="346.5" stroke="#e5e5e5" stroke-width="1"/>
<line x1="0" y1="373.6" x2="911" y2="373.6" stroke="#e5e5e5" stroke-width="1"/>
<line x1="0" y1="400.7" x2="911" y2="400.7" stroke="#e5e5e5" stroke-width="1"/>
<line x1="166.2" y1="321" x2="166.2" y2="426" stroke="#e5e5e5" stroke-width="1"/>
<line x1="350.6" y1="321" x2="350.6" y2="426" stroke="#e5e5e5" stroke-width="1"/>
<line x1="552.7" y1="321" x2="552.7" y2="426" stroke="#e5e5e5" stroke-width="1"/>
<line x1="744.4" y1="321" x2="744.4" y2="426" stroke="#e5e5e5" stroke-width="1"/>
<polyline points="-0.3,347.8 8.5,346.0 17.2,344.5 26.0,343.8 34.8,345.4 43.5,348.2 52.3,351.3 61.1,354.3 69.8,357.3 78.6,360.0 87.4,362.5 96.1,364.3 104.9,365.2 113.7,365.6 122.4,364.8 131.2,364.2 140.0,363.9 148.7,364.3 157.5,364.8 166.3,365.8 175.0,367.0 183.8,369.2 192.6,373.0 201.3,377.4 210.1,382.2 218.9,387.4 227.6,393.0 236.4,398.4 245.2,403.5 253.9,407.6 262.7,410.1 271.4,410.4 280.2,409.9 289.0,407.5 297.7,405.1 306.5,402.1 315.3,399.0 324.0,395.8 332.8,392.6 341.6,390.0 350.3,387.8 359.1,385.1 367.9,382.3 376.6,379.7 385.4,377.4 394.2,375.0 402.9,372.4 411.7,369.3 420.5,366.5 429.2,364.6 438.0,362.9 446.8,361.4 455.5,359.9 464.3,360.6 473.1,362.0 481.8,365.1 490.6,368.2 499.4,371.1 508.1,374.0 516.9,376.5 525.7,378.7 534.4,380.2 543.2,380.6 552.0,381.0 560.7,381.4 569.5,382.5 578.3,383.7 587.0,382.8 595.8,381.8 604.6,380.8 613.3,378.2 622.1,375.6 630.9,374.0 639.6,372.6 648.4,371.2 657.2,369.8 665.9,368.5 674.7,368.3 683.5,369.5 692.2,372.0 701.0,375.8 709.7,380.7 718.5,385.5 727.3,387.3 736.0,389.0 744.8,389.1 753.6,387.1 762.3,385.1 771.1,383.6 779.9,382.3 788.6,381.8 797.4,381.8 806.2,381.8 814.9,381.4 823.7,381.0 832.5,379.9 841.2,377.6 850.0,375.4 858.8,373.2 867.5,370.4 876.3,367.5 885.1,364.0 893.8,359.2 902.6,354.3" fill="none" stroke="#ff7f2a" stroke-width="1.3"/>
<polyline points="-0.3,337.0 8.5,336.8 17.2,336.9 26.0,341.3 34.8,349.1 43.5,359.7 52.3,366.7 61.1,372.0 69.8,370.3 78.6,371.6 87.4,371.7 96.1,370.3 104.9,367.7 113.7,366.8 122.4,364.2 131.2,362.2 140.0,362.7 148.7,364.7 157.5,366.0 166.3,368.5 175.0,370.7 183.8,379.5 192.6,388.3 201.3,396.8 210.1,401.2 218.9,409.5 227.6,417.3 236.4,420.8 245.2,424.8 253.9,423.6 262.7,419.2 271.4,411.1 280.2,406.7 289.0,399.9 297.7,395.2 306.5,390.7 315.3,390.9 324.0,386.5 332.8,382.8 341.6,379.0 350.3,373.9 359.1,373.5 367.9,372.6 376.6,369.0 385.4,367.4 394.2,365.9 402.9,364.2 411.7,358.8 420.5,353.5 429.2,351.7 438.0,354.0 446.8,355.5 455.5,357.2 464.3,362.5 473.1,368.0 481.8,374.7 490.6,379.3 499.4,383.2 508.1,385.7 516.9,387.8 525.7,386.7 534.4,384.8 543.2,381.9 552.0,383.5 560.7,384.1 569.5,385.2 578.3,386.4 587.0,382.6 595.8,378.7 604.6,374.8 613.3,367.7 622.1,368.3 630.9,367.3 639.6,365.9 648.4,364.2 657.2,362.2 665.9,362.8 674.7,368.5 683.5,373.4 692.2,383.3 701.0,393.6 709.7,401.8 718.5,401.7 727.3,397.7 736.0,393.6 744.8,389.1 753.6,379.4 762.3,375.2 771.1,375.4 779.9,377.8 788.6,380.5 797.4,381.9 806.2,382.8 814.9,380.5 823.7,379.9 832.5,374.6 841.2,369.4 850.0,368.1 858.8,366.5 867.5,362.1 876.3,356.9 885.1,348.6 893.8,339.8 902.6,333.1" fill="none" stroke="#3d55ff" stroke-width="1.3"/>
<rect x="-3.30" y="336.2" width="6" height="10.3" fill="#00f000"/>
<rect x="5.47" y="338.1" width="6" height="8.4" fill="#00f000"/>
<rect x="14.23" y="339.4" width="6" height="7.1" fill="#00f000"/>
<rect x="23.00" y="343.6" width="6" height="2.9" fill="#00f000"/>
<rect x="31.77" y="346.5" width="6" height="3.9" fill="#ff0000"/>
<rect x="40.53" y="346.5" width="6" height="11.3" fill="#ff0000"/>
<rect x="49.30" y="346.5" width="6" height="15.6" fill="#ff0000"/>
<rect x="58.06" y="346.5" width="6" height="16.3" fill="#ff0000"/>
<rect x="66.83" y="346.5" width="6" height="12.2" fill="#ff0000"/>
<rect x="75.60" y="346.5" width="6" height="10.0" fill="#ff0000"/>
<rect x="84.36" y="346.5" width="6" height="8.2" fill="#ff0000"/>
<rect x="93.13" y="346.5" width="6" height="5.8" fill="#ff0000"/>
<rect x="101.89" y="346.5" width="6" height="2.1" fill="#ff0000"/>
<rect x="110.66" y="346.5" width="6" height="1.5" fill="#ff0000"/>
<rect x="119.43" y="345.5" width="6" height="1.0" fill="#a8f0a8"/>
<rect x="128.19" y="343.6" width="6" height="2.9" fill="#00f000"/>
<rect x="136.96" y="344.5" width="6" height="2.0" fill="#00f000"/>
<rect x="145.72" y="346.5" width="6" height="1.2" fill="#ff0000"/>
<rect x="154.49" y="346.5" width="6" height="1.5" fill="#ff0000"/>
<rect x="163.26" y="346.5" width="6" height="3.0" fill="#ff0000"/>
<rect x="172.02" y="346.5" width="6" height="3.9" fill="#ff0000"/>
<rect x="180.79" y="346.5" width="6" height="9.5" fill="#ff0000"/>
<rect x="189.55" y="346.5" width="6" height="15.6" fill="#ff0000"/>
<rect x="198.32" y="346.5" width="6" height="18.7" fill="#ff0000"/>
<rect x="207.09" y="346.5" width="6" height="18.7" fill="#ff0000"/>
<rect x="215.85" y="346.5" width="6" height="22.4" fill="#ff0000"/>
<rect x="224.62" y="346.5" width="6" height="23.3" fill="#ff0000"/>
<rect x="233.38" y="346.5" width="6" height="21.1" fill="#ff0000"/>
<rect x="242.15" y="346.5" width="6" height="20.0" fill="#ff0000"/>
<rect x="250.92" y="346.5" width="6" height="15.6" fill="#ff0000"/>
<rect x="259.68" y="346.5" width="6" height="8.9" fill="#ff0000"/>
<rect x="268.45" y="346.5" width="6" height="1.5" fill="#ff0000"/>
<rect x="277.21" y="343.6" width="6" height="2.9" fill="#00f000"/>
<rect x="285.98" y="339.0" width="6" height="7.5" fill="#00f000"/>
<rect x="294.75" y="336.6" width="6" height="9.9" fill="#00f000"/>
<rect x="303.51" y="334.8" width="6" height="11.7" fill="#00f000"/>
<rect x="312.28" y="337.2" width="6" height="9.3" fill="#00f000"/>
<rect x="321.04" y="335.7" width="6" height="10.8" fill="#00f000"/>
<rect x="329.81" y="335.3" width="6" height="11.2" fill="#00f000"/>
<rect x="338.58" y="334.2" width="6" height="12.3" fill="#00f000"/>
<rect x="347.34" y="332.5" width="6" height="14.0" fill="#00f000"/>
<rect x="356.11" y="334.8" width="6" height="11.7" fill="#00f000"/>
<rect x="364.87" y="336.6" width="6" height="9.9" fill="#00f000"/>
<rect x="373.64" y="335.7" width="6" height="10.8" fill="#00f000"/>
<rect x="382.41" y="336.6" width="6" height="9.9" fill="#00f000"/>
<rect x="391.17" y="337.5" width="6" height="9.0" fill="#00f000"/>
<rect x="399.94" y="337.9" width="6" height="8.6" fill="#00f000"/>
<rect x="408.70" y="335.1" width="6" height="11.4" fill="#00f000"/>
<rect x="417.47" y="333.1" width="6" height="13.4" fill="#00f000"/>
<rect x="426.24" y="334.4" width="6" height="12.1" fill="#00f000"/>
<rect x="435.00" y="338.8" width="6" height="7.7" fill="#00f000"/>
<rect x="443.77" y="342.1" width="6" height="4.4" fill="#00f000"/>
<rect x="452.53" y="343.6" width="6" height="2.9" fill="#00f000"/>
<rect x="461.30" y="346.5" width="6" height="1.2" fill="#ff0000"/>
<rect x="470.07" y="346.5" width="6" height="5.2" fill="#ff0000"/>
<rect x="478.83" y="346.5" width="6" height="11.0" fill="#ff0000"/>
<rect x="487.60" y="346.5" width="6" height="12.6" fill="#ff0000"/>
<rect x="496.36" y="346.5" width="6" height="13.2" fill="#ff0000"/>
<rect x="505.13" y="346.5" width="6" height="12.2" fill="#ff0000"/>
<rect x="513.90" y="346.5" width="6" height="11.3" fill="#ff0000"/>
<rect x="522.66" y="346.5" width="6" height="8.2" fill="#ff0000"/>
<rect x="531.43" y="346.5" width="6" height="5.2" fill="#ff0000"/>
<rect x="540.19" y="346.5" width="6" height="1.5" fill="#ff0000"/>
<rect x="548.96" y="346.5" width="6" height="1.5" fill="#ff0000"/>
<rect x="557.73" y="346.5" width="6" height="2.1" fill="#ff0000"/>
<rect x="566.49" y="346.5" width="6" height="2.7" fill="#ff0000"/>
<rect x="575.26" y="346.5" width="6" height="3.4" fill="#ff0000"/>
<rect x="584.02" y="345.5" width="6" height="1.0" fill="#a8f0a8"/>
<rect x="592.79" y="344.0" width="6" height="2.5" fill="#00f000"/>
<rect x="601.56" y="340.8" width="6" height="5.7" fill="#00f000"/>
<rect x="610.32" y="336.0" width="6" height="10.5" fill="#00f000"/>
<rect x="619.09" y="338.1" width="6" height="8.4" fill="#00f000"/>
<rect x="627.85" y="339.7" width="6" height="6.8" fill="#00f000"/>
<rect x="636.62" y="339.9" width="6" height="6.6" fill="#00f000"/>
<rect x="645.39" y="339.7" width="6" height="6.8" fill="#00f000"/>
<rect x="654.15" y="339.2" width="6" height="7.3" fill="#00f000"/>
<rect x="662.92" y="341.2" width="6" height="5.3" fill="#00f000"/>
<rect x="671.68" y="346.5" width="6" height="1.0" fill="#ffa0a0"/>
<rect x="680.45" y="346.5" width="6" height="3.9" fill="#ff0000"/>
<rect x="689.22" y="346.5" width="6" height="11.0" fill="#ff0000"/>
<rect x="697.98" y="346.5" width="6" height="17.2" fill="#ff0000"/>
<rect x="706.75" y="346.5" width="6" height="20.1" fill="#ff0000"/>
<rect x="715.51" y="346.5" width="6" height="16.3" fill="#ff0000"/>
<rect x="724.28" y="346.5" width="6" height="9.5" fill="#ff0000"/>
<rect x="733.05" y="346.5" width="6" height="4.9" fill="#ff0000"/>
<rect x="741.81" y="346.5" width="6" height="1.0" fill="#ffa0a0"/>
<rect x="750.58" y="338.5" width="6" height="8.0" fill="#00f000"/>
<rect x="759.34" y="337.0" width="6" height="9.5" fill="#00f000"/>
<rect x="768.11" y="339.0" width="6" height="7.5" fill="#00f000"/>
<rect x="776.88" y="342.1" width="6" height="4.4" fill="#00f000"/>
<rect x="785.64" y="344.9" width="6" height="1.6" fill="#00f000"/>
<rect x="794.41" y="346.5" width="6" height="1.0" fill="#ffa0a0"/>
<rect x="803.17" y="346.5" width="6" height="1.3" fill="#ff0000"/>
<rect x="811.94" y="345.3" width="6" height="1.2" fill="#00f000"/>
<rect x="820.71" y="345.3" width="6" height="1.2" fill="#00f000"/>
<rect x="829.47" y="341.2" width="6" height="5.3" fill="#00f000"/>
<rect x="838.24" y="338.0" width="6" height="8.5" fill="#00f000"/>
<rect x="847.00" y="338.9" width="6" height="7.6" fill="#00f000"/>
<rect x="855.77" y="339.0" width="6" height="7.5" fill="#00f000"/>
<rect x="864.54" y="337.0" width="6" height="9.5" fill="#00f000"/>
<rect x="873.30" y="335.3" width="6" height="11.2" fill="#00f000"/>
<rect x="882.07" y="331.4" width="6" height="15.1" fill="#00f000"/>
<rect x="890.83" y="325.9" width="6" height="20.6" fill="#00f000"/>
<rect x="899.60" y="324.6" width="6" height="21.9" fill="#00f000"/>
</g>
<clipPath id="cr"><rect x="0" y="435" width="911" height="124.5"/></clipPath>
<g clip-path="url(#cr)">
<line x1="0" y1="459.90000000000003" x2="911" y2="459.90000000000003" stroke="#e5e5e5" stroke-width="1"/>
<line x1="0" y1="484.70000000000005" x2="911" y2="484.70000000000005" stroke="#e5e5e5" stroke-width="1"/>
<line x1="0" y1="509.5" x2="911" y2="509.5" stroke="#e5e5e5" stroke-width="1"/>
<line x1="0" y1="534.3000000000001" x2="911" y2="534.3000000000001" stroke="#e5e5e5" stroke-width="1"/>
<line x1="166.2" y1="434" x2="166.2" y2="560" stroke="#e5e5e5" stroke-width="1"/>
<line x1="350.6" y1="434" x2="350.6" y2="560" stroke="#e5e5e5" stroke-width="1"/>
<line x1="552.7" y1="434" x2="552.7" y2="560" stroke="#e5e5e5" stroke-width="1"/>
<line x1="744.4" y1="434" x2="744.4" y2="560" stroke="#e5e5e5" stroke-width="1"/>
<rect x="-1" y="435.5" width="904" height="36.5" fill="#00ff00" fill-opacity="0.55"/>
<rect x="-1" y="522" width="904" height="37.5" fill="#ff0000" fill-opacity="0.55"/>
<path d="M-0.7,472.5H-0.6M0.0,472.5H8.2M8.8,472.5H16.9M17.5,472.5H25.7M26.3,472.5H34.5M35.1,472.5H43.2M43.8,472.5H52.0M52.6,472.5H60.8M61.4,472.5H69.5M70.1,472.5H78.3M78.9,472.5H87.1M87.7,472.5H95.8M96.4,472.5H104.6M105.2,472.5H113.4M114.0,472.5H122.1M122.7,472.5H130.9M131.5,472.5H139.7M140.3,472.5H148.4M149.0,472.5H157.2M157.8,472.5H166.0M166.6,472.5H174.7M175.3,472.5H183.5M184.1,472.5H192.3M192.9,472.5H201.0M201.6,472.5H209.8M210.4,472.5H218.6M219.2,472.5H227.3M227.9,472.5H236.1M236.7,472.5H244.8M245.5,472.5H253.6M254.2,472.5H262.4M263.0,472.5H271.1M271.7,472.5H279.9M280.5,472.5H288.7M289.3,472.5H297.4M298.0,472.5H306.2M306.8,472.5H315.0M315.6,472.5H323.7M324.3,472.5H332.5M333.1,472.5H341.3M341.9,472.5H350.0M350.6,472.5H358.8M359.4,472.5H367.6M368.2,472.5H376.3M376.9,472.5H385.1M385.7,472.5H393.9M394.5,472.5H402.6M403.2,472.5H411.4M412.0,472.5H420.2M420.8,472.5H428.9M429.5,472.5H437.7M438.3,472.5H446.5M447.1,472.5H455.2M455.8,472.5H464.0M464.6,472.5H472.8M473.4,472.5H481.5M482.1,472.5H490.3M490.9,472.5H499.1M499.7,472.5H507.8M508.4,472.5H516.6M517.2,472.5H525.4M526.0,472.5H534.1M534.7,472.5H542.9M543.5,472.5H551.7M552.3,472.5H560.4M561.0,472.5H569.2M569.8,472.5H578.0M578.6,472.5H586.7M587.3,472.5H595.5M596.1,472.5H604.3M604.9,472.5H613.0M613.6,472.5H621.8M622.4,472.5H630.6M631.2,472.5H639.3M639.9,472.5H648.1M648.7,472.5H656.9M657.5,472.5H665.6M666.2,472.5H674.4M675.0,472.5H683.2M683.8,472.5H691.9M692.5,472.5H700.7M701.3,472.5H709.4M710.0,472.5H718.2M718.8,472.5H727.0M727.6,472.5H735.7M736.3,472.5H744.5M745.1,472.5H753.3M753.9,472.5H762.0M762.6,472.5H770.8M771.4,472.5H779.6M780.2,472.5H788.3M788.9,472.5H797.1M797.7,472.5H805.9M806.5,472.5H814.6M815.2,472.5H823.4M824.0,472.5H832.2M832.8,472.5H840.9M841.5,472.5H849.7M850.3,472.5H858.5M859.1,472.5H867.2M867.8,472.5H876.0M876.6,472.5H884.8M885.4,472.5H893.5M894.1,472.5H902.3" fill="none" stroke="#1b661b" stroke-width="1"/>
<path d="M-0.7,521.5H-0.6M0.0,521.5H8.2M8.8,521.5H16.9M17.5,521.5H25.7M26.3,521.5H34.5M35.1,521.5H43.2M43.8,521.5H52.0M52.6,521.5H60.8M61.4,521.5H69.5M70.1,521.5H78.3M78.9,521.5H87.1M87.7,521.5H95.8M96.4,521.5H104.6M105.2,521.5H113.4M114.0,521.5H122.1M122.7,521.5H130.9M131.5,521.5H139.7M140.3,521.5H148.4M149.0,521.5H157.2M157.8,521.5H166.0M166.6,521.5H174.7M175.3,521.5H183.5M184.1,521.5H192.3M192.9,521.5H201.0M201.6,521.5H209.8M210.4,521.5H218.6M219.2,521.5H227.3M227.9,521.5H236.1M236.7,521.5H244.8M245.5,521.5H253.6M254.2,521.5H262.4M263.0,521.5H271.1M271.7,521.5H279.9M280.5,521.5H288.7M289.3,521.5H297.4M298.0,521.5H306.2M306.8,521.5H315.0M315.6,521.5H323.7M324.3,521.5H332.5M333.1,521.5H341.3M341.9,521.5H350.0M350.6,521.5H358.8M359.4,521.5H367.6M368.2,521.5H376.3M376.9,521.5H385.1M385.7,521.5H393.9M394.5,521.5H402.6M403.2,521.5H411.4M412.0,521.5H420.2M420.8,521.5H428.9M429.5,521.5H437.7M438.3,521.5H446.5M447.1,521.5H455.2M455.8,521.5H464.0M464.6,521.5H472.8M473.4,521.5H481.5M482.1,521.5H490.3M490.9,521.5H499.1M499.7,521.5H507.8M508.4,521.5H516.6M517.2,521.5H525.4M526.0,521.5H534.1M534.7,521.5H542.9M543.5,521.5H551.7M552.3,521.5H560.4M561.0,521.5H569.2M569.8,521.5H578.0M578.6,521.5H586.7M587.3,521.5H595.5M596.1,521.5H604.3M604.9,521.5H613.0M613.6,521.5H621.8M622.4,521.5H630.6M631.2,521.5H639.3M639.9,521.5H648.1M648.7,521.5H656.9M657.5,521.5H665.6M666.2,521.5H674.4M675.0,521.5H683.2M683.8,521.5H691.9M692.5,521.5H700.7M701.3,521.5H709.4M710.0,521.5H718.2M718.8,521.5H727.0M727.6,521.5H735.7M736.3,521.5H744.5M745.1,521.5H753.3M753.9,521.5H762.0M762.6,521.5H770.8M771.4,521.5H779.6M780.2,521.5H788.3M788.9,521.5H797.1M797.7,521.5H805.9M806.5,521.5H814.6M815.2,521.5H823.4M824.0,521.5H832.2M832.8,521.5H840.9M841.5,521.5H849.7M850.3,521.5H858.5M859.1,521.5H867.2M867.8,521.5H876.0M876.6,521.5H884.8M885.4,521.5H893.5M894.1,521.5H902.3" fill="none" stroke="#520808" stroke-width="1"/>
<path d="M902.5,435.5 V472" fill="none" stroke="#2a7a2a" stroke-width="1"/>
<path d="M902.5,522 V559.5" fill="none" stroke="#6a1a1a" stroke-width="1"/>
<polyline points="-0.3,494.9 8.5,494.3 17.2,493.0 26.0,500.8 34.8,508.6 43.5,516.3 52.3,515.1 61.1,512.3 69.8,502.3 78.6,505.2 87.4,504.0 96.1,502.5 104.9,499.2 113.7,502.7 122.4,499.9 131.2,496.6 140.0,502.6 148.7,508.8 157.5,504.5 166.3,508.7 175.0,509.8 183.8,518.5 192.6,523.4 201.3,524.4 210.1,521.8 218.9,528.3 227.6,528.1 236.4,525.1 245.2,527.1 253.9,518.5 262.7,512.4 271.4,504.1 280.2,507.3 289.0,502.8 297.7,503.9 306.5,503.6 315.3,510.4 324.0,502.8 332.8,503.1 341.6,500.5 350.3,497.0 359.1,504.2 367.9,504.3 376.6,497.3 385.4,502.0 394.2,501.2 402.9,499.2 411.7,491.3 420.5,489.7 429.2,496.0 438.0,504.5 446.8,503.6 455.5,502.6 464.3,509.3 473.1,513.5 481.8,518.8 490.6,516.4 499.4,516.4 508.1,515.5 516.9,516.4 525.7,511.7 534.4,508.9 543.2,504.1 552.0,513.4 560.7,512.7 569.5,514.6 578.3,516.0 587.0,503.6 595.8,504.0 604.6,498.4 613.3,490.4 622.1,504.3 630.9,503.3 639.6,501.3 648.4,499.6 657.2,498.7 665.9,504.4 674.7,514.2 683.5,515.1 692.2,523.4 701.0,527.4 709.7,528.0 718.5,512.3 727.3,504.5 736.0,505.6 744.8,503.0 753.6,490.9 762.3,498.5 771.1,504.0 779.9,506.9 788.6,509.5 797.4,508.7 806.2,509.4 814.9,502.8 823.7,506.1 832.5,497.3 841.2,495.4 850.0,501.1 858.8,500.2 867.5,494.9 876.3,493.3 885.1,486.9 893.8,480.3 902.6,483.2" fill="none" stroke="#2a40ff" stroke-width="1.4" opacity="0.75"/>
</g>
<rect x="65" y="316" width="18" height="1" fill="#8a8a8a"/>
<rect x="65" y="317" width="18" height="1" fill="#c8c8c8"/>
<rect x="65" y="318" width="18" height="1" fill="#b0b0b0"/>
<rect x="65" y="319" width="18" height="1" fill="#a6a6a6"/>
<rect x="65" y="320" width="18" height="1" fill="#c0c0c0"/>
<rect x="65" y="428" width="18" height="1" fill="#7c7c7c"/>
<rect x="65" y="430" width="18" height="1" fill="#5e5e5e"/>
<rect x="65" y="432" width="18" height="1" fill="#7c7c7c"/>
<g font-size="10" fill="#555555" stroke="#555555" stroke-width="0.25">
<line x1="911" y1="13.20" x2="916" y2="13.20" stroke="#999" stroke-width="1"/>
<text x="918.5" y="17.1">1.0800</text>
<line x1="911" y1="36.89" x2="916" y2="36.89" stroke="#999" stroke-width="1"/>
<text x="918.5" y="40.8">1.0700</text>
<line x1="911" y1="60.58" x2="916" y2="60.58" stroke="#999" stroke-width="1"/>
<text x="918.5" y="64.5">1.0600</text>
<line x1="911" y1="84.27" x2="916" y2="84.27" stroke="#999" stroke-width="1"/>
<text x="918.5" y="88.2">1.0500</text>
<line x1="911" y1="107.96" x2="916" y2="107.96" stroke="#999" stroke-width="1"/>
<text x="918.5" y="111.9">1.0400</text>
<line x1="911" y1="131.65" x2="916" y2="131.65" stroke="#999" stroke-width="1"/>
<text x="918.5" y="135.6">1.0300</text>
<line x1="911" y1="155.34" x2="916" y2="155.34" stroke="#999" stroke-width="1"/>
<text x="918.5" y="159.2">1.0200</text>
<line x1="911" y1="179.03" x2="916" y2="179.03" stroke="#999" stroke-width="1"/>
<text x="918.5" y="182.9">1.0100</text>
<line x1="911" y1="202.72" x2="916" y2="202.72" stroke="#999" stroke-width="1"/>
<text x="918.5" y="206.6">1.0000</text>
<line x1="911" y1="226.41" x2="916" y2="226.41" stroke="#999" stroke-width="1"/>
<text x="918.5" y="230.3">0.9900</text>
<line x1="911" y1="250.10" x2="916" y2="250.10" stroke="#999" stroke-width="1"/>
<text x="918.5" y="254.0">0.9800</text>
<line x1="911" y1="273.79" x2="916" y2="273.79" stroke="#999" stroke-width="1"/>
<text x="918.5" y="277.7">0.9700</text>
<line x1="911" y1="297.48" x2="916" y2="297.48" stroke="#999" stroke-width="1"/>
<text x="918.5" y="301.4">0.9600</text>
<line x1="911" y1="346.5" x2="916" y2="346.5" stroke="#999" stroke-width="1"/>
<text x="918.5" y="350.6">0.0000</text>
<line x1="911" y1="373.5" x2="916" y2="373.5" stroke="#999" stroke-width="1"/>
<text x="918.5" y="377.6">-0.0050</text>
<line x1="911" y1="400.5" x2="916" y2="400.5" stroke="#999" stroke-width="1"/>
<text x="918.5" y="404.6">-0.0100</text>
<line x1="911" y1="459.5" x2="916" y2="459.5" stroke="#999" stroke-width="1"/>
<text x="918.5" y="462.9">80.0000</text>
<line x1="911" y1="484.5" x2="916" y2="484.5" stroke="#999" stroke-width="1"/>
<text x="918.5" y="487.9">60.0000</text>
<line x1="911" y1="509.5" x2="916" y2="509.5" stroke="#999" stroke-width="1"/>
<text x="918.5" y="512.9">40.0000</text>
<line x1="911" y1="534.5" x2="916" y2="534.5" stroke="#999" stroke-width="1"/>
<text x="918.5" y="537.9">20.0000</text>
<line x1="911" y1="559.5" x2="916" y2="559.5" stroke="#999" stroke-width="1"/>
<text x="918.5" y="562.9">0.0000</text>
</g>
<path d="M908,0.5 L914,-6.3 L963,-6.3 L963,5.7 L914,5.7 Z" fill="#243f66"/>
<text x="958.8" y="3.3" font-size="10" font-weight="bold" fill="#fff" text-anchor="end">1.085590</text>
<path d="M907.8,192.9 L913.6,187 L963,187 L963,199 L913.6,199 Z" fill="#243f66"/>
<text x="958.8" y="196.6" font-size="10" font-weight="bold" fill="#fff" text-anchor="end">1.004130</text>
<g font-size="10" fill="#555555" stroke="#555555" stroke-width="0.25" text-anchor="middle">
<rect x="25.5" y="560.5" width="1" height="1.6" fill="#888" stroke="none"/>
<text x="26.0" y="575">9</text>
<rect x="51.5" y="560.5" width="1" height="1.6" fill="#888" stroke="none"/>
<text x="52.3" y="575">14</text>
<rect x="78.5" y="560.5" width="1" height="1.6" fill="#888" stroke="none"/>
<text x="78.6" y="575">17</text>
<rect x="104.5" y="560.5" width="1" height="1.6" fill="#888" stroke="none"/>
<text x="104.9" y="575">22</text>
<rect x="130.5" y="560.5" width="1" height="1.6" fill="#888" stroke="none"/>
<text x="131.2" y="575">27</text>
<rect x="165.5" y="560.5" width="1" height="1.6" fill="#888" stroke="none"/>
<text x="166.3" y="575">Jul</text>
<rect x="192.5" y="560.5" width="1" height="1.6" fill="#888" stroke="none"/>
<text x="192.6" y="575">6</text>
<rect x="218.5" y="560.5" width="1" height="1.6" fill="#888" stroke="none"/>
<text x="218.9" y="575">11</text>
<rect x="244.5" y="560.5" width="1" height="1.6" fill="#888" stroke="none"/>
<text x="245.2" y="575">14</text>
<rect x="270.5" y="560.5" width="1" height="1.6" fill="#888" stroke="none"/>
<text x="271.4" y="575">19</text>
<rect x="297.5" y="560.5" width="1" height="1.6" fill="#888" stroke="none"/>
<text x="297.7" y="575">22</text>
<rect x="323.5" y="560.5" width="1" height="1.6" fill="#888" stroke="none"/>
<text x="324.0" y="575">27</text>
<rect x="349.5" y="560.5" width="1" height="1.6" fill="#888" stroke="none"/>
<text x="350.3" y="575">Aug</text>
<rect x="376.5" y="560.5" width="1" height="1.6" fill="#888" stroke="none"/>
<text x="376.6" y="575">4</text>
<rect x="402.5" y="560.5" width="1" height="1.6" fill="#888" stroke="none"/>
<text x="402.9" y="575">9</text>
<rect x="428.5" y="560.5" width="1" height="1.6" fill="#888" stroke="none"/>
<text x="429.2" y="575">12</text>
<rect x="455.5" y="560.5" width="1" height="1.6" fill="#888" stroke="none"/>
<text x="455.5" y="575">17</text>
<rect x="481.5" y="560.5" width="1" height="1.6" fill="#888" stroke="none"/>
<text x="481.8" y="575">22</text>
<rect x="507.5" y="560.5" width="1" height="1.6" fill="#888" stroke="none"/>
<text x="508.1" y="575">25</text>
<rect x="551.5" y="560.5" width="1" height="1.6" fill="#888" stroke="none"/>
<text x="552.0" y="575">Sep</text>
<rect x="577.5" y="560.5" width="1" height="1.6" fill="#888" stroke="none"/>
<text x="578.3" y="575">6</text>
<rect x="604.5" y="560.5" width="1" height="1.6" fill="#888" stroke="none"/>
<text x="604.6" y="575">9</text>
<rect x="630.5" y="560.5" width="1" height="1.6" fill="#888" stroke="none"/>
<text x="630.9" y="575">14</text>
<rect x="656.5" y="560.5" width="1" height="1.6" fill="#888" stroke="none"/>
<text x="657.2" y="575">19</text>
<rect x="682.5" y="560.5" width="1" height="1.6" fill="#888" stroke="none"/>
<text x="683.5" y="575">22</text>
<rect x="709.5" y="560.5" width="1" height="1.6" fill="#888" stroke="none"/>
<text x="709.7" y="575">27</text>
<rect x="744.5" y="560.5" width="1" height="1.6" fill="#888" stroke="none"/>
<text x="744.8" y="575">Oct</text>
<rect x="770.5" y="560.5" width="1" height="1.6" fill="#888" stroke="none"/>
<text x="771.1" y="575">6</text>
<rect x="796.5" y="560.5" width="1" height="1.6" fill="#888" stroke="none"/>
<text x="797.4" y="575">11</text>
<rect x="823.5" y="560.5" width="1" height="1.6" fill="#888" stroke="none"/>
<text x="823.7" y="575">14</text>
<rect x="849.5" y="560.5" width="1" height="1.6" fill="#888" stroke="none"/>
<text x="850.0" y="575">19</text>
<rect x="875.5" y="560.5" width="1" height="1.6" fill="#888" stroke="none"/>
<text x="876.3" y="575">24</text>
<rect x="902.5" y="560.5" width="1" height="1.6" fill="#888" stroke="none"/>
<text x="902.6" y="575">27</text>
</g>
<path d="M-2,564 L0,564 L2,562 L4,564 L29.7,564 L29.7,576.6 L-2,576.6 Z" fill="#6f6f6f" opacity="0.95"/>
<text x="23.6" y="574.6" font-size="10" font-weight="bold" fill="#fff" text-anchor="end">6/9/2022</text>
<text x="26" y="575" font-size="10" fill="#333" text-anchor="middle" opacity="0.55">9</text>
<rect x="0" y="591" width="975" height="1" fill="#e2e4ec"/>
</svg></body></html>
